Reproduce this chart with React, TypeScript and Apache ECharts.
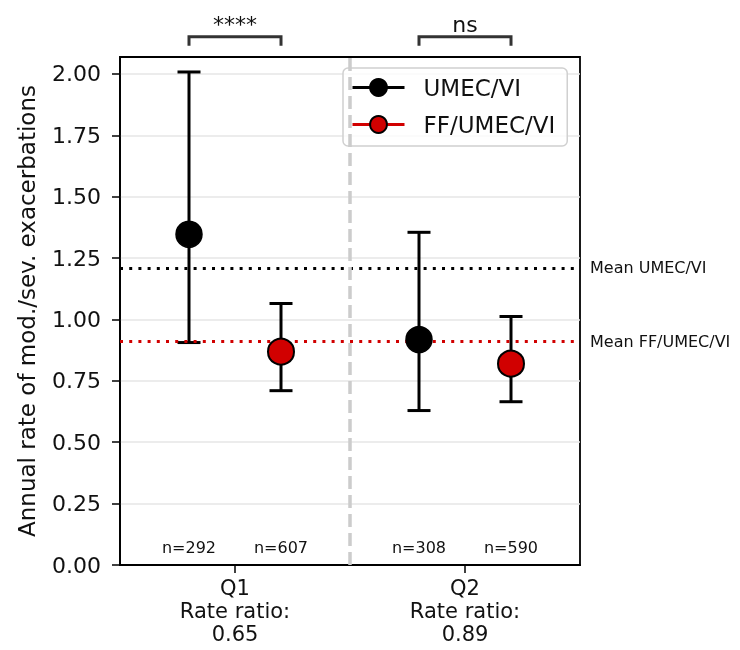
import React, { useEffect, useRef } from "react";
import * as echarts from "echarts";

const categories = ["Q1", "Q2"];
const rateRatios = ["0.65", "0.89"];
const seriesNames = ["UMEC/VI", "FF/UMEC/VI"];
const umecMean = [1.347, 0.918];
const umecLow = [0.906, 0.629];
const umecHigh = [2.008, 1.355];
const ffMean = [0.869, 0.82];
const ffLow = [0.71, 0.665];
const ffHigh = [1.065, 1.012];
const umecN = [292, 308];
const ffN = [607, 590];
const groupOffsets = [-0.2, 0.2];
const meanUmec = 1.212;
const meanFf = 0.91;
const significance = ["****", "ns"];
const yTicks = [0, 0.25, 0.5, 0.75, 1.0, 1.25, 1.5, 1.75, 2.0];

const FONT = "DejaVu Sans";
const RED = "#d10000";

export default function App() {
  const ref = useRef<HTMLDivElement>(null);

  useEffect(() => {
    if (!ref.current) return;
    const chart = echarts.init(ref.current, undefined, { renderer: "svg" });

    const errData = (low: number[], high: number[], off: number) =>
      categories.map((_, i) => [i + off, low[i], high[i]]);

    const errorBarSeries = (name: string, low: number[], high: number[], off: number) => ({
      type: "custom",
      name: name + " err",
      data: errData(low, high, off),
      encode: { x: 0, y: [1, 2] },
      z: 3,
      silent: true,
      renderItem: (params: any, api: any) => {
        const x = api.value(0);
        const pLo = api.coord([x, api.value(1)]);
        const pHi = api.coord([x, api.value(2)]);
        const hw = 11.5;
        const st = { stroke: "#000", lineWidth: 3 };
        return {
          type: "group",
          children: [
            { type: "line", shape: { x1: pLo[0], y1: pLo[1], x2: pHi[0], y2: pHi[1] }, style: st },
            { type: "line", shape: { x1: pLo[0] - hw, y1: pLo[1], x2: pLo[0] + hw, y2: pLo[1] }, style: st },
            { type: "line", shape: { x1: pHi[0] - hw, y1: pHi[1], x2: pHi[0] + hw, y2: pHi[1] }, style: st },
          ],
        };
      },
    });

    const nLabelData = [
      ...categories.map((_, i) => ({ value: [i + groupOffsets[0], 0.07], name: "n=" + umecN[i] })),
      ...categories.map((_, i) => ({ value: [i + groupOffsets[1], 0.07], name: "n=" + ffN[i] })),
    ];

    const option: any = {
      animation: false,
      textStyle: { fontFamily: FONT },
      grid: {
        left: 120,
        right: 160,
        top: 57,
        bottom: 85,
        show: true,
        borderColor: "#000",
        borderWidth: 1.8,
        backgroundColor: "transparent",
      },
      legend: {
        left: 343,
        top: 68,
        orient: "vertical",
        itemWidth: 52,
        itemHeight: 21,
        itemGap: 14,
        padding: [8, 12, 10, 8],
        backgroundColor: "rgba(255,255,255,0.8)",
        borderColor: "#d0d0d0",
        borderWidth: 1.5,
        borderRadius: 5,
        textStyle: { fontSize: 23, color: "#111", fontFamily: FONT, lineHeight: 23, padding: [0, 0, 0, 14] },
        data: [
          { name: seriesNames[0], lineStyle: { color: "#000", width: 3, opacity: 1 } },
          { name: seriesNames[1], lineStyle: { color: RED, width: 3, opacity: 1 } },
        ],
      },
      xAxis: {
        type: "value",
        min: -0.5,
        max: 1.5,
        interval: 0.5,
        splitLine: { show: false },
        axisLine: { show: true, onZero: false, lineStyle: { color: "#000", width: 1.8 } },
        axisTick: { show: true, length: 8, customValues: [0, 1], lineStyle: { color: "#000", width: 1.5 } },
        axisLabel: {
          customValues: [0, 1],
          margin: 11,
          fontSize: 21,
          lineHeight: 23,
          color: "#111",
          fontFamily: FONT,
          formatter: (v: number) => {
            const i = Math.round(v);
            return categories[i] + "\nRate ratio:\n" + rateRatios[i];
          },
        },
      },
      yAxis: {
        type: "value",
        min: 0,
        max: 2.069,
        interval: 0.25,
        name: "Annual rate of mod./sev. exacerbations",
        nameLocation: "middle",
        nameRotate: 90,
        nameGap: 82,
        nameTextStyle: { fontSize: 23, color: "#111", fontFamily: FONT },
        axisLine: { show: true, onZero: false, lineStyle: { color: "#000", width: 1.8 } },
        axisTick: { show: true, length: 8, customValues: yTicks, lineStyle: { color: "#000", width: 1.5 } },
        axisLabel: {
          customValues: yTicks,
          margin: 19,
          fontSize: 22,
          color: "#111",
          fontFamily: FONT,
          formatter: (v: number) => v.toFixed(2),
        },
        splitLine: { show: true, lineStyle: { color: "#e6e6e6", width: 1.5 } },
      },
      series: [
        errorBarSeries(seriesNames[0], umecLow, umecHigh, groupOffsets[0]),
        errorBarSeries(seriesNames[1], ffLow, ffHigh, groupOffsets[1]),
        {
          type: "line",
          name: seriesNames[0],
          data: categories.map((_, i) => [i + groupOffsets[0], umecMean[i]]),
          symbol: "circle",
          symbolSize: 26,
          z: 5,
          lineStyle: { opacity: 0, width: 0 },
          itemStyle: { color: "#000", borderColor: "#000", borderWidth: 1.5 },
          markLine: {
            silent: true,
            symbol: "none",
            animation: false,
            data: [
              {
                yAxis: meanUmec,
                lineStyle: { color: "#000", width: 2.8, type: [3, 6.2] },
                label: {
                  show: true,
                  position: "end",
                  distance: 10,
                  formatter: "Mean " + seriesNames[0],
                  fontSize: 16,
                  color: "#111",
                  fontFamily: FONT,
                },
              },
              {
                xAxis: 0.5,
                lineStyle: { color: "#cccccc", width: 3.5, type: [13, 6] },
                label: { show: false },
              },
            ],
          },
        },
        {
          type: "line",
          name: seriesNames[1],
          data: categories.map((_, i) => [i + groupOffsets[1], ffMean[i]]),
          symbol: "circle",
          symbolSize: 26,
          z: 5,
          lineStyle: { opacity: 0, width: 0 },
          itemStyle: { color: RED, borderColor: "#000", borderWidth: 2 },
          markLine: {
            silent: true,
            symbol: "none",
            animation: false,
            data: [
              {
                yAxis: meanFf,
                lineStyle: { color: RED, width: 2.8, type: [3, 6.2] },
                label: {
                  show: true,
                  position: "end",
                  distance: 10,
                  formatter: "Mean " + seriesNames[1],
                  fontSize: 16,
                  color: "#111",
                  fontFamily: FONT,
                },
              },
            ],
          },
        },
        {
          type: "scatter",
          name: "n labels",
          data: nLabelData,
          symbolSize: 1,
          itemStyle: { color: "rgba(0,0,0,0)" },
          silent: true,
          z: 6,
          label: {
            show: true,
            position: "inside",
            formatter: (p: any) => p.name,
            fontSize: 16,
            color: "#111",
            opacity: 1,
            textBorderWidth: 0,
            fontFamily: FONT,
          },
          emphasis: { disabled: true },
        },
        {
          type: "custom",
          name: "brackets",
          clip: false,
          silent: true,
          data: categories.map((_, i) => [i + groupOffsets[0], i + groupOffsets[1], 2.151]),
          encode: { x: [0, 1], y: 2 },
          renderItem: (params: any, api: any) => {
            const p1 = api.coord([api.value(0), api.value(2)]);
            const p2 = api.coord([api.value(1), api.value(2)]);
            const drop = 9;
            const st = { stroke: "#333", lineWidth: 3, fill: "none" };
            return {
              type: "group",
              children: [
                {
                  type: "polyline",
                  shape: {
                    points: [
                      [p1[0], p1[1] + drop],
                      [p1[0], p1[1]],
                      [p2[0], p2[1]],
                      [p2[0], p2[1] + drop],
                    ],
                  },
                  style: st,
                },
                {
                  type: "text",
                  x: (p1[0] + p2[0]) / 2,
                  y: p1[1] - 1,
                  style: {
                    text: significance[params.dataIndex],
                    fontSize: 22,
                    fontFamily: FONT,
                    fill: "#111",
                    align: "center",
                    verticalAlign: "bottom",
                  },
                },
              ],
            };
          },
        },
      ],
    };

    chart.setOption(option);
    return () => chart.dispose();
  }, []);

  return (
    <div
      ref={ref}
      style={{ position: "fixed", left: 0, top: 0, width: 740, height: 650 }}
    />
  );
}
